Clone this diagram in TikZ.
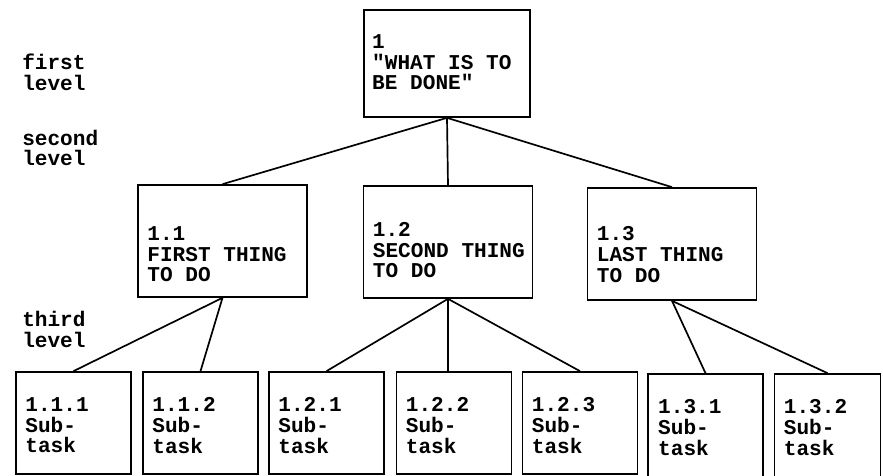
\documentclass[tikz,border=0pt]{standalone}
\usepackage{fontspec}
\setmonofont{Liberation Mono}
\usetikzlibrary{positioning}

\tikzset{
  box/.style={draw, line width=1.2pt, minimum width=2.875cm, minimum height=2.55cm, inner sep=0pt},
  bigbox/.style={box, minimum width=4.225cm, minimum height=2.8cm},
  txt/.style={align=left, inner sep=0pt, font=\ttfamily\bfseries\fontsize{15}{14.8}\selectfont},
  conn/.style={line width=1.2pt}
}

\begin{document}
\begin{tikzpicture}
\useasboundingbox (0,0) rectangle (22.075,11.9);
% first level
\node (l1) [bigbox, minimum width=4.15cm, minimum height=2.675cm] at (11.175,10.3125) {};
\node (t1) [txt, below right=0.625cm and 0.22cm of l1.north west] {1\\"WHAT IS TO\\BE DONE"};
% second level
\node (l11) [bigbox] at (5.5625,5.875) {};
\node (t11) [txt, below right=1.05cm and 0.25cm of l11.north west] {1.1\\FIRST THING\\TO DO};
\node (l12) [bigbox] at (11.2,5.85) {};
\node (t12) [txt, below right=0.92cm and 0.25cm of l12.north west] {1.2\\SECOND THING\\TO DO};
\node (l13) [bigbox] at (16.8,5.8) {};
\node (t13) [txt, below right=0.98cm and 0.25cm of l13.north west] {1.3\\LAST THING\\TO DO};
% third level
\node (l111) [box] at (1.8375,1.325) {};
\node (t111) [txt, below right=0.65cm and 0.25cm of l111.north west] {1.1.1\\Sub-\\task};
\node (l112) [box] at (5.0125,1.325) {};
\node (t112) [txt, below right=0.65cm and 0.25cm of l112.north west] {1.1.2\\Sub-\\task};
\node (l121) [box] at (8.1625,1.325) {};
\node (t121) [txt, below right=0.65cm and 0.25cm of l121.north west] {1.2.1\\Sub-\\task};
\node (l122) [box] at (11.35,1.325) {};
\node (t122) [txt, below right=0.65cm and 0.25cm of l122.north west] {1.2.2\\Sub-\\task};
\node (l123) [box] at (14.5,1.325) {};
\node (t123) [txt, below right=0.65cm and 0.25cm of l123.north west] {1.2.3\\Sub-\\task};
\node (l131) [box, minimum height=2.7cm] at (17.6375,1.2) {};
\node (t131) [txt, below right=0.65cm and 0.27cm of l131.north west] {1.3.1\\Sub-\\task};
\node (l132) [box, minimum width=2.65cm, minimum height=2.7cm] at (20.6875,1.2) {};
\node (t132) [txt, below right=0.65cm and 0.25cm of l132.north west] {1.3.2\\Sub-\\task};
% level labels
\node (first) [txt, anchor=north west] at (0.55,10.56) {first\\level};
\node (second) [txt, anchor=north west] at (0.55,8.66) {second\\level};
\node (third) [txt, anchor=north west] at (0.55,4.12) {third\\level};
% connectors
\draw[conn] (l1.south) -- (l11.north);
\draw[conn] (l1.south) -- (l12.north);
\draw[conn] (l1.south) -- (l13.north);
\draw[conn] (l11.south) -- (l111.north);
\draw[conn] (l11.south) -- (l112.north);
\draw[conn] (l12.south) -- (l121.north);
\draw[conn] (l12.south) -- (l12.south |- l122.north);
\draw[conn] (l12.south) -- (l123.north);
\draw[conn] (l13.south) -- (l131.north);
\draw[conn] (l13.south) -- (l132.north);
\end{tikzpicture}
\end{document}
